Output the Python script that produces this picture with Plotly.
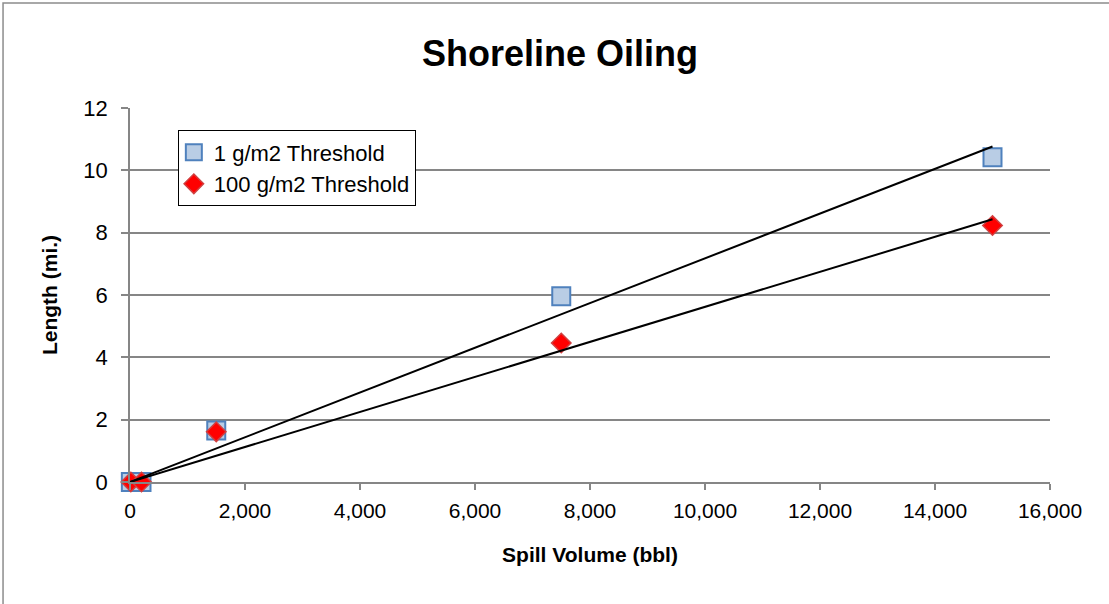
import numpy as np
import plotly.graph_objects as go

# Spill volumes (bbl) and oiled shoreline length (mi.)
spill_volume = [15, 200, 1500, 7500, 15000]
length_1g = [0.0, 0.0, 1.65, 5.96, 10.42]
length_100g = [0.0, 0.0, 1.61, 4.46, 8.23]

x_ticks = [0, 2000, 4000, 6000, 8000, 10000, 12000, 14000, 16000]
y_ticks = [0, 2, 4, 6, 8, 10, 12]

FONT = "Liberation Sans"


def trend_through_origin(x, y):
    x = np.asarray(x, float)
    y = np.asarray(y, float)
    slope = (x * y).sum() / (x * x).sum()
    xs = np.array([0.0, x.max()])
    return xs, slope * xs


fig = go.Figure()

fig.add_trace(go.Scatter(
    x=spill_volume, y=length_1g, mode="markers", name="1 g/m2 Threshold",
    marker=dict(symbol="square", size=18, color="#B9CDE5",
                line=dict(color="#4F81BD", width=2)),
    cliponaxis=False,
))
fig.add_trace(go.Scatter(
    x=spill_volume, y=length_100g, mode="markers", name="100 g/m2 Threshold",
    marker=dict(symbol="diamond", size=15, color="#FF0000",
                line=dict(color="#D04040", width=1.5)),
    cliponaxis=False,
))

for ys in (length_1g, length_100g):
    tx, ty = trend_through_origin(spill_volume, ys)
    fig.add_trace(go.Scatter(
        x=tx, y=ty, mode="lines", showlegend=False, hoverinfo="skip",
        line=dict(color="black", width=2), cliponaxis=False,
    ))

fig.update_layout(
    width=1109, height=604,
    margin=dict(l=130, r=59, t=108, b=122),
    paper_bgcolor="white", plot_bgcolor="white",
    font=dict(family=FONT, size=22, color="black"),
    title=dict(text="<b>Shoreline Oiling</b>", x=0.505, xanchor="center",
               y=0.912, yanchor="middle", font=dict(size=36, family=FONT)),
    legend=dict(x=0.052, y=0.94, xanchor="left", yanchor="top",
                bordercolor="black", borderwidth=1, bgcolor="white",
                font=dict(size=22, family=FONT), tracegroupgap=0,
                itemwidth=30, indentation=-5),
    shapes=[dict(type="rect", xref="paper", yref="paper",
                 x0=-0.138, x1=1.2, y0=-0.5, y1=1.2807,
                 line=dict(color="#8C8C8C", width=1.5), layer="below")],
)

fig.update_xaxes(
    range=[0, 16000], tickvals=x_ticks, tickformat=",d",
    showgrid=False, zeroline=False,
    showline=True, linecolor="#868686", linewidth=1.5,
    ticks="outside", ticklen=6, tickcolor="#868686", tickwidth=1.5,
    tickfont=dict(size=21), ticklabelstandoff=3,
    title=dict(text="<b>Spill Volume (bbl)</b>", font=dict(size=21), standoff=26),
)
fig.update_yaxes(
    range=[0, 12], tickvals=y_ticks,
    showgrid=True, gridcolor="#868686", gridwidth=1.5, zeroline=False,
    showline=True, linecolor="#868686", linewidth=1.5,
    ticks="outside", ticklen=7, tickcolor="#868686", tickwidth=1.5,
    tickfont=dict(size=22), ticklabelstandoff=9,
    title=dict(text="<b>Length (mi.)</b>", font=dict(size=21), standoff=20),
)

fig.write_html("out.html")
